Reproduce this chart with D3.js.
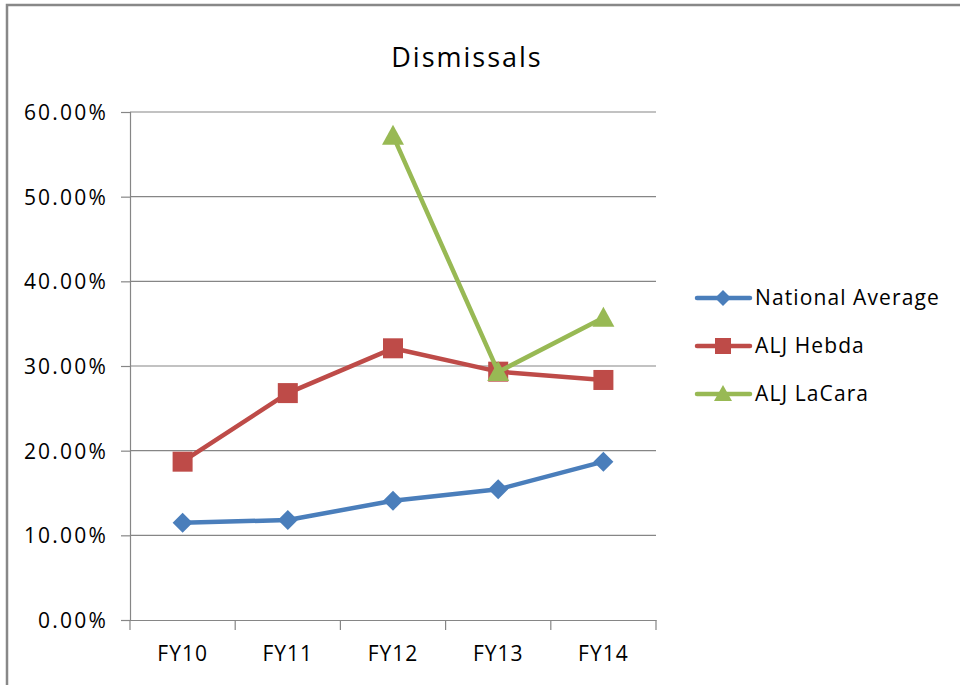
<!DOCTYPE html>
<html><head><meta charset="utf-8">
<script src="https://cdn.jsdelivr.net/npm/d3@7"></script>
<style>html,body{margin:0;padding:0;background:#fff;}svg{display:block;}</style>
</head><body>
<script>
const categories = ["FY10","FY11","FY12","FY13","FY14"];
const nationalAverage = [0.1149, 0.1181, 0.1409, 0.1543, 0.1870];
const aljHebda = [0.1870, 0.2680, 0.3209, 0.2933, 0.2835];
const aljLaCara = [null, null, 0.5720, 0.2930, 0.3570];
const yTicks = [0, 0.1, 0.2, 0.3, 0.4, 0.5, 0.6];
const seriesNames = ["National Average", "ALJ Hebda", "ALJ LaCara"];

const series = [
  {name: seriesNames[0], values: nationalAverage, color: "#4a7ebb", shape: "diamond"},
  {name: seriesNames[1], values: aljHebda, color: "#be4b48", shape: "square"},
  {name: seriesNames[2], values: aljLaCara, color: "#98b954", shape: "triangle"}
];

const W = 960, H = 685;
const font = "'Open Sans', Lato, sans-serif";
const svg = d3.select("body").append("svg").attr("width", W).attr("height", H);
svg.append("rect").attr("width", W).attr("height", H).attr("fill", "#fff");
// outer border
svg.append("path").attr("d", "M7,700 L7,5 L980,5").attr("fill","none").attr("stroke","#888").attr("stroke-width",2.5);

svg.append("text").attr("x", 467).attr("y", 67).attr("text-anchor","middle")
  .attr("font-family", font).attr("font-size", 27).attr("letter-spacing", 2)
  .attr("fill","#000").text("Dismissals");

const pLeft = 130, pRight = 656, pTop = 112, pBottom = 620;
const x = d3.scaleBand().domain(categories).range([pLeft, pRight]);
const y = d3.scaleLinear().domain([0, 0.6]).range([pBottom, pTop]);

// gridlines
svg.append("g").selectAll("line").data(yTicks.slice(1)).join("line")
  .attr("x1", pLeft).attr("x2", pRight).attr("y1", d => y(d)).attr("y2", d => y(d))
  .attr("stroke", "#868686").attr("stroke-width", 1.2);

const yAxis = svg.append("g").attr("transform", `translate(${pLeft},0)`)
  .call(d3.axisLeft(y).tickValues(yTicks).tickFormat(d3.format(".2%")).tickSize(9).tickPadding(13));
const xAxis = svg.append("g").attr("transform", `translate(0,${pBottom})`)
  .call(d3.axisBottom(x).tickSize(0).tickPadding(26));
// x tick marks at band boundaries
svg.append("g").selectAll("line").data(categories.concat(["end"])).join("line")
  .attr("x1", (d,i) => pLeft + i * x.step()).attr("x2", (d,i) => pLeft + i * x.step())
  .attr("y1", pBottom).attr("y2", pBottom + 10).attr("stroke", "#868686").attr("stroke-width", 1.2);

[yAxis, xAxis].forEach(a => {
  a.selectAll("path.domain").attr("stroke", "#868686").attr("stroke-width", 1.2);
  a.selectAll(".tick line").attr("stroke", "#868686").attr("stroke-width", 1.2);
  a.selectAll("text").attr("font-family", font).attr("font-size", 21).attr("fill", "#000");
});
yAxis.selectAll("text").attr("dy", "0.35em").attr("letter-spacing", 2.2);
xAxis.selectAll("text").attr("letter-spacing", 1);

const cx = c => x(c) + x.bandwidth() / 2;
function drawMarker(g, shape, px, py, color) {
  if (shape === "diamond") {
    const r = 10;
    g.append("path").attr("d", `M${px},${py-r}L${px+r},${py}L${px},${py+r}L${px-r},${py}Z`).attr("fill", color);
  } else if (shape === "square") {
    const s = 10;
    g.append("rect").attr("x", px-s).attr("y", py-s).attr("width", 2*s).attr("height", 2*s).attr("fill", color);
  } else {
    const h = 20, w = 22;
    g.append("path").attr("d", `M${px},${py-h*0.55}L${px+w/2},${py+h*0.45}L${px-w/2},${py+h*0.45}Z`).attr("fill", color);
  }
}

series.forEach(s => {
  const pts = categories.map((c, i) => ({c, v: s.values[i]}));
  const line = d3.line().defined(d => d.v != null).x(d => cx(d.c)).y(d => y(d.v));
  svg.append("path").datum(pts).attr("d", line).attr("fill","none")
    .attr("stroke", s.color).attr("stroke-width", 4.5).attr("stroke-linejoin","round");
  const g = svg.append("g");
  pts.filter(d => d.v != null).forEach(d => drawMarker(g, s.shape, cx(d.c), y(d.v), s.color));
});

// legend
const lg = svg.append("g");
series.forEach((s, i) => {
  const ly = 298 + i * 48;
  lg.append("line").attr("x1", 697).attr("x2", 750).attr("y1", ly).attr("y2", ly)
    .attr("stroke", s.color).attr("stroke-width", 4.5).attr("stroke-linecap","round");
  const gm = lg.append("g");
  if (s.shape === "diamond") {
    gm.append("path").attr("d", `M723,${ly-8}L731,${ly}L723,${ly+8}L715,${ly}Z`).attr("fill", s.color);
  } else if (s.shape === "square") {
    gm.append("rect").attr("x", 715).attr("y", ly-8).attr("width", 16).attr("height", 16).attr("fill", s.color);
  } else {
    gm.append("path").attr("d", `M723,${ly-9}L732,${ly+7}L714,${ly+7}Z`).attr("fill", s.color);
  }
  lg.append("text").attr("x", 755).attr("y", ly).attr("dy","0.35em")
    .attr("font-family", font).attr("font-size", 21).attr("letter-spacing", 1.1)
    .attr("fill","#000").text(s.name);
});
</script>
</body></html>
